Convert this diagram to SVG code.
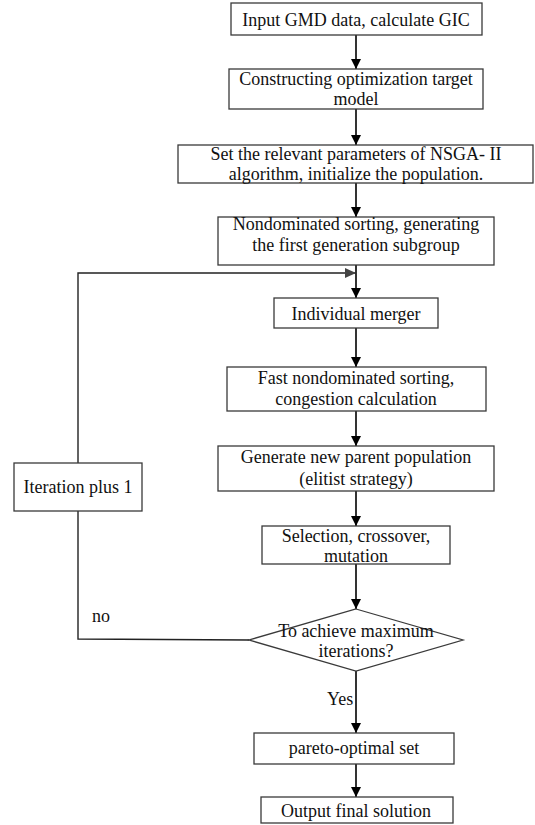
<svg xmlns="http://www.w3.org/2000/svg" width="535" height="825" viewBox="0 0 535 825">
<style>
.box{fill:#fff;stroke:#3a3a3a;stroke-width:1.3}
.t{font-family:"Liberation Serif","Times New Roman","DejaVu Serif",serif;font-size:18px;fill:#111;text-anchor:middle}
.tl{font-family:"Liberation Serif","Times New Roman","DejaVu Serif",serif;font-size:18px;fill:#111}
.ln{fill:none;stroke:#000;stroke-width:1.6}
.lg{fill:none;stroke:#222;stroke-width:1.4}
</style>
<defs>
<marker id="ah" markerWidth="10" markerHeight="10" refX="10" refY="5" orient="auto" markerUnits="userSpaceOnUse">
<path d="M0,0 L10,5 L0,10 Z" fill="#000"/>
</marker>
<marker id="ahg" markerWidth="11" markerHeight="10" refX="11" refY="5" orient="auto" markerUnits="userSpaceOnUse">
<path d="M0,0 L11,5 L0,10 Z" fill="#444"/>
</marker>
</defs>
<rect width="535" height="825" fill="#fff"/>
<g id="connectors">
<line class="ln" x1="356" y1="35" x2="356" y2="69" marker-end="url(#ah)"/>
<line class="ln" x1="356" y1="109" x2="356" y2="145" marker-end="url(#ah)"/>
<line class="ln" x1="356" y1="183" x2="356" y2="217" marker-end="url(#ah)"/>
<line class="ln" x1="356" y1="265" x2="356" y2="298" marker-end="url(#ah)"/>
<line class="ln" x1="356" y1="328" x2="356" y2="367" marker-end="url(#ah)"/>
<line class="ln" x1="356" y1="411" x2="356" y2="446" marker-end="url(#ah)"/>
<line class="ln" x1="356" y1="491" x2="356" y2="526" marker-end="url(#ah)"/>
<line class="ln" x1="356" y1="564" x2="356" y2="609" marker-end="url(#ah)"/>
<line class="ln" x1="356" y1="671" x2="356" y2="733" marker-end="url(#ah)"/>
<line class="ln" x1="356" y1="764" x2="356" y2="797" marker-end="url(#ah)"/>
<polyline class="lg" points="249,640 78,639 78,511"/>
<polyline class="lg" points="78,463 78,273 356,273" marker-end="url(#ahg)"/>
<text class="tl" x="92" y="622">no</text>
<text class="tl" x="327" y="705">Yes</text>
</g>
<g id="n1"><rect class="box" x="231" y="3" width="251" height="32"/><text class="t" x="356" y="26">Input GMD data, calculate GIC</text></g>
<g id="n2"><rect class="box" x="229" y="69" width="254" height="40"/><text class="t" x="356" y="85">Constructing optimization target</text><text class="t" x="356" y="105">model</text></g>
<g id="n3"><rect class="box" x="178" y="145" width="355" height="38"/><text class="t" x="356" y="160">Set the relevant parameters of NSGA- II</text><text class="t" x="356" y="180">algorithm, initialize the population.</text></g>
<g id="n4"><rect class="box" x="218" y="217" width="276" height="48"/><text class="t" x="356" y="230">Nondominated sorting, generating</text><text class="t" x="356" y="251">the first generation subgroup</text></g>
<g id="n5"><rect class="box" x="274" y="298" width="164" height="30"/><text class="t" x="356" y="320">Individual merger</text></g>
<g id="n6"><rect class="box" x="227" y="367" width="259" height="44"/><text class="t" x="356" y="384">Fast nondominated sorting,</text><text class="t" x="356" y="405">congestion calculation</text></g>
<g id="n7"><rect class="box" x="218" y="446" width="276" height="45"/><text class="t" x="356" y="463">Generate new parent population</text><text class="t" x="356" y="485">(elitist strategy)</text></g>
<g id="n8"><rect class="box" x="262" y="526" width="188" height="38"/><text class="t" x="356" y="542">Selection, crossover,</text><text class="t" x="356" y="562">mutation</text></g>
<g id="n9"><polygon class="box" points="356,609 463,640 356,671 249,640"/><text class="t" x="356" y="637">To achieve maximum</text><text class="t" x="356" y="657">iterations?</text></g>
<g id="n10"><rect class="box" x="14" y="463" width="128" height="48"/><text class="t" x="78" y="493">Iteration plus 1</text></g>
<g id="n11"><rect class="box" x="254" y="733" width="200" height="31"/><text class="t" x="354" y="754">pareto-optimal set</text></g>
<g id="n12"><rect class="box" x="261" y="797" width="192" height="26"/><text class="t" x="356" y="817">Output final solution</text></g>
</svg>
